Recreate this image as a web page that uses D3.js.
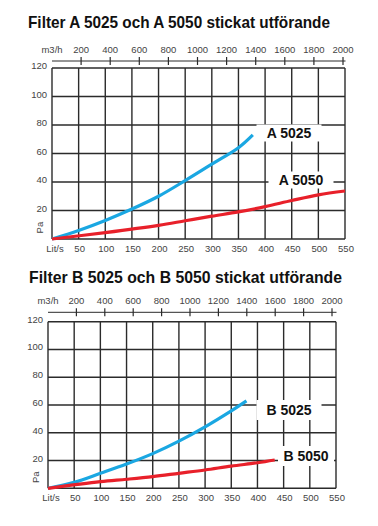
<!DOCTYPE html>
<html>
<head>
<meta charset="utf-8">
<script src="https://cdn.jsdelivr.net/npm/d3@7"></script>
<style>
  body { margin: 0; background: white; }
  svg { display: block; font-family: "Liberation Sans", Arial, sans-serif; }
</style>
</head>
<body>
<svg id="chart"></svg>
<script>
// data (flow in Lit/s, pressure drop in Pa)
var flowTicks = [50, 100, 150, 200, 250, 300, 350, 400, 450, 500, 550];
var m3hTicks = [200, 400, 600, 800, 1000, 1200, 1400, 1600, 1800, 2000];
var paTicks = [20, 40, 60, 80, 100, 120];

var a5025Flow = [0, 50, 100, 150, 200, 250, 300, 350, 377];
var a5025Pa   = [0, 6, 13, 21, 30, 41, 52.5, 64, 73];
var a5050Flow = [0, 100, 200, 250, 300, 350, 400, 450, 500, 550];
var a5050Pa   = [0, 4.5, 9.6, 12.8, 16, 19, 22.7, 27, 31, 33.7];

var b5025Flow = [0, 50, 100, 150, 200, 250, 300, 350, 379];
var b5025Pa   = [0, 4.3, 10.8, 17.5, 25, 34, 44.3, 55.8, 63];
var b5050Flow = [0, 100, 150, 200, 250, 300, 350, 400, 433];
var b5050Pa   = [0, 4.8, 6.5, 8.4, 10.8, 13.2, 16, 18.4, 20.4];

var charts = [
  {title: "Filter A 5025 och A 5050 stickat utförande",
   series: [
     {name: "A 5025", flow: a5025Flow, pa: a5025Pa, color: "#1aa7e2"},
     {name: "A 5050", flow: a5050Flow, pa: a5050Pa, color: "#e8202a"}],
   layout: {titleY: 28, titleX: 28, titleW: 302, left: 52, right: 345, top: 68, bottom: 239,
            topAxisY: 61, topAxisEnd: 343,
            labels: [{x: 289, y: 133, w: 65, h: 17}, {x: 301, y: 180, w: 65, h: 17}]}},
  {title: "Filter B 5025 och B 5050 stickat utförande",
   series: [
     {name: "B 5025", flow: b5025Flow, pa: b5025Pa, color: "#1aa7e2"},
     {name: "B 5050", flow: b5050Flow, pa: b5050Pa, color: "#e8202a"}],
   layout: {titleY: 283, titleX: 29, titleW: 313, left: 48, right: 336, top: 321.7, bottom: 488.3,
            topAxisY: 312.3, topAxisEnd: 332,
            labels: [{x: 289, y: 410, w: 65, h: 20}, {x: 306, y: 456, w: 56, h: 20}]}}
];

var svg = d3.select("#chart").attr("width", 378).attr("height", 526);
svg.append("rect").attr("width", 378).attr("height", 526).attr("fill", "white");

var gridColor = "#2b2b2b", tickColor = "#444";

charts.forEach(function(c) {
  var L = c.layout;
  var x = d3.scaleLinear().domain([0, 550]).range([L.left, L.right]);
  var y = d3.scaleLinear().domain([0, 120]).range([L.bottom, L.top]);
  var xTop = d3.scaleLinear().domain([0, 2000]).range([L.left, L.topAxisEnd]);

  // title
  svg.append("text")
    .attr("x", L.titleX).attr("y", L.titleY)
    .attr("textLength", L.titleW).attr("lengthAdjust", "spacingAndGlyphs")
    .style("font-size", "16.5px").style("font-weight", "bold").attr("fill", "#111")
    .text(c.title);

  // top m3/h axis
  svg.append("line")
    .attr("x1", L.left).attr("x2", L.right + 0.5)
    .attr("y1", L.topAxisY).attr("y2", L.topAxisY)
    .attr("stroke", gridColor).attr("stroke-width", 1);
  m3hTicks.forEach(function(t) {
    svg.append("line")
      .attr("x1", xTop(t)).attr("x2", xTop(t))
      .attr("y1", L.topAxisY - 4).attr("y2", L.topAxisY + 4)
      .attr("stroke", gridColor).attr("stroke-width", 1.2);
    svg.append("text")
      .attr("x", xTop(t)).attr("y", L.topAxisY - 8)
      .attr("text-anchor", "middle").style("font-size", "9.5px").attr("fill", tickColor)
      .text(t);
  });
  svg.append("text")
    .attr("x", xTop(0)).attr("y", L.topAxisY - 8)
    .attr("text-anchor", "middle").style("font-size", "9.5px").attr("fill", tickColor)
    .text("m3/h");

  // grid
  var g = svg.append("g");
  [0].concat(flowTicks).forEach(function(t) {
    g.append("line")
      .attr("x1", x(t)).attr("x2", x(t)).attr("y1", y(0)).attr("y2", y(120))
      .attr("stroke", gridColor).attr("stroke-width", 1.4);
  });
  [0].concat(paTicks).forEach(function(t) {
    g.append("line")
      .attr("x1", x(0)).attr("x2", x(550)).attr("y1", y(t)).attr("y2", y(t))
      .attr("stroke", gridColor).attr("stroke-width", 1.4);
  });

  // y labels
  paTicks.forEach(function(t) {
    svg.append("text")
      .attr("x", L.left - 5).attr("y", y(t) + 1)
      .attr("text-anchor", "end").style("font-size", "9.5px").attr("fill", tickColor)
      .text(t);
  });
  svg.append("text")
    .attr("transform", "translate(" + (L.left - 9) + "," + (y(8)) + ") rotate(-90)")
    .attr("text-anchor", "middle").style("font-size", "9.5px").attr("fill", tickColor)
    .text("Pa");

  // bottom labels
  svg.append("text")
    .attr("x", x(0) + 3).attr("y", L.bottom + 12.5)
    .attr("text-anchor", "middle").style("font-size", "9.5px").attr("fill", tickColor)
    .text("Lit/s");
  flowTicks.forEach(function(t) {
    svg.append("text")
      .attr("x", x(t) + 1).attr("y", L.bottom + 12.5)
      .attr("text-anchor", "middle").style("font-size", "9.5px").attr("fill", tickColor)
      .text(t);
  });

  // label boxes
  c.series.forEach(function(s, i) {
    var lb = L.labels[i];
    svg.append("rect")
      .attr("x", lb.x - lb.w / 2).attr("y", lb.y - lb.h / 2)
      .attr("width", lb.w).attr("height", lb.h).attr("fill", "white");
    svg.append("text")
      .attr("x", lb.x).attr("y", lb.y + 5)
      .attr("text-anchor", "middle").style("font-size", "14px").style("font-weight", "bold")
      .attr("fill", "#111").text(s.name);
  });

  // curves
  var line = d3.line()
    .x(function(d) { return x(d[0]); })
    .y(function(d) { return y(d[1]); })
    .curve(d3.curveCatmullRom.alpha(0.5));
  c.series.forEach(function(s) {
    var pts = s.flow.map(function(f, i) { return [f, s.pa[i]]; });
    svg.append("path")
      .attr("d", line(pts))
      .attr("fill", "none").attr("stroke", s.color)
      .attr("stroke-width", 3.2).attr("stroke-linecap", "butt");
  });
});
</script>
</body>
</html>
